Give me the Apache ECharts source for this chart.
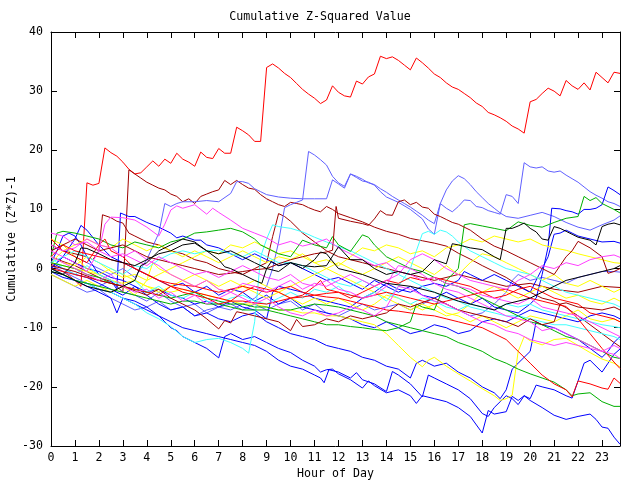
<!DOCTYPE html>
<html><head><meta charset="utf-8">
<script src="https://cdn.jsdelivr.net/npm/echarts@6/dist/echarts.min.js"></script>
<style>html,body{margin:0;padding:0;background:#fff}#c{width:640px;height:480px}</style>
</head><body><div id="c"></div>
<script>
// ---- data (hour, cumulative value) ----
const redTop=[[0,1],[0.25,0],[0.5,-0.5],[0.75,-1.2],[1,-2],[1.25,-3],[1.5,14.5],[1.75,14.1],[2,14.4],[2.25,20.4],[2.5,19.6],[2.75,19],[3,18],[3.25,16.8],[3.5,16],[3.75,16.2],[4,17.2],[4.25,18.2],[4.5,17.3],[4.75,18.5],[5,17.8],[5.25,19.5],[5.5,18.5],[5.75,18],[6,17.3],[6.25,19.7],[6.5,18.8],[6.75,18.6],[7,20.3],[7.25,19.5],[7.5,19.5],[7.75,23.9],[8,23.3],[8.25,22.6],[8.5,21.5],[8.75,21.5],[9,34],[9.25,34.6],[9.5,33.9],[9.75,33],[10,32.3],[10.25,31.3],[10.5,30.3],[10.75,29.5],[11,28.8],[11.25,27.9],[11.5,28.5],[11.75,30.9],[12,29.8],[12.25,29.2],[12.5,29],[12.75,31.7],[13,31.2],[13.25,32.4],[13.5,32.9],[13.75,35.9],[14,35.5],[14.25,35.8],[14.5,35.2],[14.75,34.4],[15,33.6],[15.25,35.6],[15.5,34.8],[15.75,33.9],[16,32.9],[16.25,32.3],[16.5,31.4],[16.75,30.7],[17,30.3],[17.25,29.6],[17.5,28.9],[17.75,28],[18,27.4],[18.25,26.4],[18.5,26],[18.75,25.5],[19,24.9],[19.25,24.1],[19.5,23.6],[19.75,22.9],[20,28.2],[20.25,28.6],[20.5,29.6],[20.75,30.5],[21,30],[21.25,29.2],[21.5,31.8],[21.75,30.9],[22,30.3],[22.25,31.4],[22.5,30.2],[22.75,33.2],[23,32.3],[23.25,31.4],[23.5,33.2],[23.75,33]];
const darkRedA=[[0,2],[0.5,1.2],[1,0.5],[1.5,-0.5],[2,-1.5],[2.5,-2.2],[2.75,-3],[3,-4],[3.25,16.7],[3.5,16],[3.75,15.3],[4,14.6],[4.25,14.1],[4.5,13.6],[4.75,13.3],[5,12.6],[5.25,12.2],[5.5,11.3],[5.75,11.8],[6,11],[6.25,12.2],[6.5,12.6],[6.75,13],[7,13.3],[7.25,14.9],[7.5,14.2],[7.75,14.9],[8,14.2],[8.25,13.6],[8.5,13.4],[8.75,12.5],[9,11.8],[9.25,11.3],[9.5,10.8],[9.75,10.5],[10,11.2],[10.25,11],[10.5,10.8],[10.75,10.3],[11,9.9],[11.25,9.6],[11.5,10.5],[11.75,10],[12,9.3],[12.5,8.6],[13,7.9],[13.5,7],[14,6.3],[14.5,5.8],[15,5.1],[15.5,4.7],[16,4.3],[16.5,3.8],[17,2.6],[17.5,1.6],[18,0.5],[18.5,-0.5],[19,-1.5],[19.5,-2.8],[20,-4],[20.5,-5],[21,-5.5],[21.5,-6.6],[22,-8],[22.5,-9.5],[23,-11],[23.5,-12.5],[23.75,-13.2]];
const darkRedC=[[0,4],[0.5,3],[1,2.5],[1.5,2],[1.75,1.5],[2,3],[2.15,9.1],[2.5,8.6],[2.75,8],[3,7.7],[3.25,6],[3.5,5.5],[4,4.5],[4.5,4],[5,3],[5.5,2.5],[6,1.5],[6.5,1],[7,0],[7.5,-0.5],[8,-1],[8.5,0],[9,1],[9.25,5.4],[9.5,9.3],[9.75,8.8],[10,8],[10.5,6],[11,4.5],[11.5,3],[12,2],[12.5,1.5],[13,1],[14,0],[15,-1],[16,-2],[17,-1],[18,-2],[19,-3],[20,-2.5],[21,-3.5],[22,-4],[23,-3],[23.75,-3.2]];
const lightBlueA=[[0,0.5],[0.5,-0.5],[1,-1.5],[1.5,-2.5],[2,-3],[2.5,-2],[3,-4],[3.5,-4.5],[4,-5.5],[4.5,-4],[5,-5.5],[5.5,-6.5],[6,-6],[6.5,-7.5],[7,-6.5],[7.5,-7],[8,-6],[8.5,-5],[9,-3],[9.25,0],[9.5,4.5],[9.75,10.3],[10,10.8],[10.25,11.2],[10.5,11.6],[10.75,19.8],[11,19.2],[11.25,18.4],[11.5,17.5],[11.75,15.6],[12,14.5],[12.25,13.9],[12.5,16],[12.75,15.6],[13,15.1],[13.25,14.5],[13.5,14.2],[13.75,13.5],[14,12.9],[14.25,12.2],[14.5,11.6],[14.75,11],[15,10.4],[15.25,9.7],[15.5,9],[15.75,8.2],[16,7.6],[16.25,11],[16.5,13.3],[16.75,14.8],[17,15.7],[17.25,15.2],[17.5,14.2],[17.75,13],[18,12],[18.25,11],[18.5,10.2],[18.75,9.4],[19,8.8],[19.5,8.5],[20,9],[20.5,9.5],[21,8.8],[21.5,7.8],[22,7],[22.5,6.5],[23,7.4],[23.5,8.2],[23.75,8.9]];
const lightBlueB=[[0,3],[0.5,4],[1,2],[1.5,1],[2,0],[2.5,-1],[3,0],[3.5,-1.5],[4,1.5],[4.5,6],[4.75,11],[5,10.5],[5.25,11],[5.5,11.3],[6,11.3],[6.5,11.5],[7,11.3],[7.5,12.7],[7.75,14.7],[8,14.7],[8.25,14.4],[8.5,13.5],[8.75,13],[9,12.5],[9.5,12.1],[10,11.9],[10.5,11.8],[11,11.8],[11.5,11.8],[11.75,15],[12,14.3],[12.25,13.6],[12.5,16],[12.75,15.4],[13,14.8],[13.25,14.6],[13.5,14.1],[13.75,13],[14,12.1],[14.5,11.2],[15,10],[15.5,8.4],[15.75,6.7],[16,5.8],[16.25,11],[16.5,10.2],[16.75,9.6],[17,10.5],[17.25,11.6],[17.5,11.5],[17.75,10.5],[18,10.3],[18.25,9.8],[18.5,9.5],[18.75,9.2],[19,12.5],[19.25,12.2],[19.5,11],[19.75,17.9],[20,17.2],[20.25,17],[20.5,17.2],[20.75,16.5],[21,16.3],[21.25,16.5],[21.5,15.8],[21.75,15.2],[22,14.6],[22.25,13.8],[22.5,13],[22.75,12.4],[23,11.9],[23.25,11.3],[23.5,11],[23.75,10.5]];
const lightBlueC=[[0,-1],[0.5,-2],[1,-3],[1.5,-4],[2,-3.5],[2.5,-5],[3,-6],[3.5,-7],[4,-6.5],[4.5,-5.5],[5,-7],[5.5,-6.5],[6,-8],[6.5,-7],[7,-6.5],[7.5,-6],[8,-7],[8.5,-6],[9,-7],[9.5,-6],[10,-5.5],[10.5,-7],[11,-6],[11.5,-7.5],[12,-8],[12.5,-7],[13,-6],[13.5,-7],[14,-6.5],[14.5,-6],[15,-7],[15.5,-6],[16,-5],[16.5,-6],[17,-7],[17.5,-8],[18,-7.5],[18.5,-6],[19,-4],[19.25,-2],[19.5,-1],[20,-2],[20.5,-1.5],[21,-2],[21.5,-2.5],[22,-1.5],[22.5,-1],[23,-0.5],[23.5,-0.5],[23.75,-0.6]];
const blueBottom=[[0,-0.5],[0.5,-1.5],[1,-2],[1.5,-2.5],[2,-3.5],[2.5,-4],[3,-5],[3.5,-5.5],[4,-6.5],[4.5,-8],[4.75,-9],[5,-10],[5.25,-10.5],[5.5,-11.5],[6,-12.5],[6.5,-13.5],[7,-15.1],[7.25,-11.5],[7.5,-11],[8,-12],[8.5,-11.5],[9,-12.5],[9.5,-13.5],[10,-14.2],[10.5,-15.5],[11,-16.5],[11.25,-17.5],[11.5,-17.1],[11.75,-17],[12,-17.8],[12.5,-18.8],[13,-20.2],[13.25,-19],[13.5,-19.8],[14,-21],[14.5,-20.5],[15,-21.5],[15.25,-22.8],[15.5,-21.5],[16,-22],[16.5,-22.5],[17,-23.5],[17.5,-25],[18,-27.8],[18.25,-24],[18.5,-24.6],[19,-24.2],[19.25,-21.6],[19.5,-22.3],[19.75,-21.5],[20,-22.3],[20.5,-23.5],[21,-24.8],[21.5,-25.5],[22,-25],[22.5,-24.6],[22.75,-25.5],[23,-26.8],[23.25,-27],[23.5,-28.5],[23.75,-29.7]];
const blueLow=[[0,0],[0.5,-1],[1,-2],[1.5,-3],[2,-4],[2.5,-5],[2.75,-7.5],[3,-5],[3.5,-6],[4,-7],[4.5,-8],[5,-9],[5.5,-10],[6,-10.5],[6.5,-11],[7,-11.5],[7.5,-12],[8,-12.5],[8.5,-13],[9,-14],[9.5,-15.5],[10,-16.5],[10.5,-17],[11,-18],[11.25,-18.5],[11.4,-19.3],[11.6,-17.1],[12,-17.5],[12.5,-18.5],[12.75,-17.6],[13,-18.8],[13.5,-19.5],[14,-20.8],[14.25,-17.4],[14.5,-18],[15,-19.5],[15.5,-21.7],[15.75,-18],[16,-18.5],[16.5,-19.5],[17,-20.5],[17.5,-22],[18,-24.5],[18.25,-25],[18.5,-23.5],[18.75,-22.5],[19,-21.5],[19.25,-22],[19.5,-23],[19.75,-21.5],[20,-22],[20.25,-19.7],[20.5,-20],[21,-20.5],[21.5,-21.5],[21.75,-21.9],[22,-19],[22.25,-16],[22.5,-15.5],[22.75,-16.5],[23,-17.5],[23.25,-16],[23.5,-14.5],[23.75,-13.6]];
const blueMid=[[0,1],[0.5,0],[1,-1],[1.5,-1.5],[2,-2.5],[2.5,-3.5],[3,-4.5],[3.5,-3],[4,-4.5],[4.5,-6],[5,-7],[5.5,-6.5],[6,-8],[6.5,-7.5],[7,-8.5],[7.5,-9],[8,-8],[8.5,-7.5],[9,-9],[9.5,-10],[10,-11],[10.5,-11.5],[11,-12],[11.5,-13],[12,-13.5],[12.5,-14],[13,-15],[13.5,-15.5],[14,-16.5],[14.5,-17],[15,-18.5],[15.25,-16],[15.5,-15.5],[16,-16.5],[16.5,-16],[17,-17.5],[17.5,-18.5],[18,-20],[18.5,-21],[18.75,-22],[19,-20.5],[19.25,-17],[19.5,-16],[20,-14],[20.25,-9],[20.5,-9.5],[21,-10],[21.5,-11],[22,-12],[22.5,-13.5],[23,-15],[23.25,-14],[23.5,-12.5],[23.75,-11.5]];
const blueHigh=[[0,1],[0.25,3],[0.5,5.5],[0.75,6],[1,5.5],[1.25,4],[1.5,2],[2,-1],[2.5,-2],[2.75,-3.5],[2.9,9.4],[3.25,8.8],[3.5,8.8],[3.75,8.3],[4,7.8],[4.5,7],[5,6],[5.25,5.2],[5.5,5.5],[6,4.8],[6.25,4.8],[6.5,4],[7,3.5],[7.5,2.5],[8,1.5],[8.5,2.5],[9,1.5],[9.5,0.5],[10,1],[10.5,0],[11,-1],[11.5,-2],[12,-1.5],[12.5,-2.5],[13,-3.5],[13.5,-2],[14,-3],[14.5,-4],[15,-3],[15.5,-4.5],[16,-5],[16.5,-4],[17,-5],[17.5,-6],[18,-5],[18.5,-6.5],[19,-7],[19.5,-7.5],[20,-6],[20.25,-5],[20.5,-1],[20.75,3.7],[20.9,10.2],[21.25,10.1],[21.5,9.8],[21.75,9.6],[22,9.2],[22.25,10],[22.5,10],[22.75,10.2],[23,10.8],[23.25,13.8],[23.5,13.2],[23.75,12.5]];
const blueUpper=[[0,0],[0.5,2],[1,1],[1.5,0],[2,-0.5],[2.5,-1.5],[3,-2],[3.5,-3],[4,-4],[4.5,-3.5],[5,-4.5],[5.5,-5],[6,-6],[6.5,-5.5],[7,-6.5],[7.5,-5.5],[8,-6.5],[8.5,-7],[9,-8.5],[9.25,-4],[9.5,-3],[10,-3.5],[10.5,-4],[11,-5],[11.5,-5.5],[12,-6],[12.5,-6.5],[13,-5],[13.5,-4],[14,-2.5],[14.5,-3.5],[15,-4],[15.5,-3],[16,-2.5],[16.5,-3],[17,-2],[17.25,-0.5],[17.5,-1],[18,-2],[18.5,-1],[19,-2],[19.5,-3],[20,-4],[20.25,-2],[20.5,0],[20.75,2],[21,5.8],[21.25,6],[21.5,6.5],[21.75,6],[22,5.5],[22.5,5],[23,4.5],[23.5,4.6],[23.75,4.3]];
const blueEarly=[[0,0],[0.5,2],[1,5],[1.25,7.3],[1.5,6.5],[2,4],[2.5,2],[3,1],[3.5,0],[4,-1],[4.5,-2],[5,-3],[5.5,-2.5],[6,-4],[6.5,-3],[7,-4.5],[7.5,-3.5],[8,-4],[8.5,-5.5],[9,-4.5],[9.5,-6],[10,-5],[10.5,-6.5],[11,-7],[11.5,-7.5],[12,-8],[12.5,-8.5],[13,-9.5],[13.5,-10],[14,-9],[14.5,-10],[15,-11],[15.5,-10.5],[16,-9.5],[16.5,-10],[17,-11],[17.5,-10.5],[18,-9],[18.5,-8.5],[19,-9],[19.5,-8],[20,-7],[20.5,-7.5],[21,-8],[21.5,-8.5],[22,-9],[22.5,-8],[23,-7.5],[23.5,-8],[23.75,-8.5]];
const yellowLow=[[0,1],[0.5,0.5],[1,0],[1.5,-0.5],[2,-1],[2.5,-2],[3,-2.5],[3.5,-2],[4,-3],[4.5,-3.5],[5,-4],[5.5,-3.5],[6,-4],[6.5,-4.5],[7,-5],[7.5,-5.5],[8,-6],[8.5,-6],[9,-6.5],[9.5,-7],[10,-7],[10.5,-7.5],[11,-7.5],[11.5,-8],[12,-8],[12.5,-8.5],[13,-9],[13.5,-9.5],[14,-11],[14.5,-13],[15,-15],[15.5,-16.6],[15.75,-15.5],[16,-15],[16.5,-16.5],[17,-17.8],[17.5,-19],[18,-20.3],[18.5,-21.5],[18.75,-22.3],[19,-22],[19.25,-21.4],[19.5,-14],[19.75,-11.5],[20,-12.2],[20.5,-12.9],[21,-12],[21.5,-11.8],[22,-13],[22.5,-14.2],[23,-15.3],[23.5,-16],[23.75,-16.6]];
const yellowMid=[[0,5],[0.5,4],[1,2],[1.5,0],[2,-1],[2.5,0],[3,-1],[3.5,-2],[4,-3],[4.5,-4],[5,-3],[5.5,-2],[6,-1],[6.5,-2],[7,-3],[7.5,-2],[8,-3],[8.5,-4],[9,-5],[9.5,-4],[10,-5],[10.5,-6],[11,-5],[11.5,-6],[12,-5],[12.5,-6],[13,-7],[13.5,-6],[14,-4.5],[14.5,-5],[15,-6],[15.5,-7],[16,-6],[16.5,-7.5],[17,-8],[17.5,-9],[18,-8],[18.5,-9],[19,-10],[19.5,-9],[20,-8],[20.5,-8.5],[21,-9],[21.5,-8],[22,-7],[22.5,-8.5],[23,-9],[23.5,-8.5],[23.75,-9]];
const yellowHigh=[[0,1],[0.5,3],[1,4],[1.5,5],[2,4],[2.5,3.5],[3,5],[3.5,4],[4,3],[4.5,4],[5,3],[5.5,2],[6,3],[6.5,2],[7,1],[7.5,2],[8,3],[8.5,2],[9,1],[9.5,2],[10,1.5],[10.5,2.5],[11,1],[11.5,0],[12,1],[12.5,0],[13,-1],[13.5,0],[14,1],[14.5,2],[15,1],[15.5,0],[16,-1],[16.5,0.5],[17,-1],[17.5,1],[18,2.5],[18.5,2],[19,1],[19.5,0],[20,-1],[20.5,-2],[21,-1],[21.5,-2.5],[22,-3],[22.5,-2],[23,-3],[23.5,-4],[23.75,-3.5]];
const yellowFour=[[0,-1],[0.5,-2],[1,-3],[1.5,-2],[2,-3],[2.5,-4],[3,-3],[3.5,-4.5],[4,-2],[4.25,1],[4.5,0],[5,-1],[5.5,-2],[6,-3],[6.5,-2],[7,-3.5],[7.5,-4],[8,-3],[8.5,-2],[9,-3],[9.5,-4],[10,-3],[10.5,-2],[11,-1],[11.5,0],[12,-1],[12.5,-2],[13,-3],[13.5,-4],[14,-5],[14.5,-6],[15,-7],[15.5,-6],[16,-7],[16.5,-8],[17,-7.5],[17.5,-6],[18,-4],[18.5,-3],[19,-4],[19.5,-5],[20,-4],[20.5,-3],[21,-4],[21.5,-5],[22,-4.5],[22.5,-5.5],[23,-6],[23.5,-5],[23.75,-5.5]];
const yellowFive=[[0,2],[0.5,1],[1,0.5],[1.5,2],[2,1],[2.5,-0.5],[3,-1.5],[3.5,-1],[4,-2],[4.5,-1],[5,0],[5.5,1],[6,2],[6.5,3],[7,2.5],[7.5,4],[8,3.5],[8.5,4.5],[9,3.5],[9.5,2.5],[10,3],[10.5,2],[11,1],[11.5,1.5],[12,0.5],[12.5,2],[13,3.5],[13.5,3],[14,4],[14.5,3.5],[15,2.5],[15.5,3],[16,2],[16.5,3.5],[17,4],[17.5,5],[18,4.5],[18.5,5.5],[19,5],[19.5,4.5],[20,5],[20.5,4],[21,3.5],[21.5,3.1],[22,2.5],[22.5,2],[23,1.5],[23.5,1],[23.75,0.9]];
const cyanLow=[[0,0],[0.5,-1],[1,-2],[1.5,-2.5],[2,-3.5],[2.5,-4],[3,-5],[3.5,-6],[4,-7.5],[4.5,-8.5],[5,-9.8],[5.5,-11.5],[6,-12.5],[6.5,-12],[7,-11.8],[7.5,-12.5],[8,-13.5],[8.25,-14.3],[8.5,-9],[8.75,2],[9,5],[9.25,7.4],[9.5,7.1],[10,6.8],[10.5,6.2],[11,5.3],[11.5,4.5],[12,3.7],[12.5,3],[13,2],[13.5,1],[14,0],[14.5,-1],[15,-2],[15.5,-3],[16,-4],[16.5,-5],[17,-5.5],[17.5,-6.5],[18,-7],[18.5,-7.5],[19,-8],[19.5,-8],[20,-8.5],[20.5,-9],[21,-9.5],[21.5,-9.5],[22,-10],[22.5,-10.5],[23,-11],[23.5,-11.5],[23.75,-12]];
const cyanMid=[[0,2],[0.5,0],[1,-1],[1.5,0.5],[2,-1],[2.5,-2],[3,-3],[3.5,-2],[4,-4],[4.5,-3],[5,-4.5],[5.5,-5],[6,-4],[6.5,-5.5],[7,-6],[7.5,-5],[8,-4.5],[8.5,-5.5],[9,-6],[9.5,-5],[10,-4],[10.5,-5],[11,-3.5],[11.5,-4],[12,-3],[12.5,-4.5],[13,-5],[13.5,-4],[14,-5.5],[14.5,-3],[15,0],[15.25,3],[15.5,5.9],[15.75,6.3],[16,5.8],[16.25,6.5],[16.5,6.2],[16.75,5.5],[17,4.5],[17.5,3],[18,2],[18.5,1],[19,0],[19.5,-0.5],[20,-1],[20.5,-2],[21,-3],[21.5,-4],[22,-4.5],[22.5,-5],[23,-5.5],[23.5,-6],[23.75,-6.5]];
const cyanHigh=[[0,1],[0.5,2],[1,3],[1.5,2],[2,1],[2.5,0],[3,-1],[3.5,0.5],[4,0],[4.5,1.5],[5,2.5],[5.5,3],[6,2.5],[6.5,3],[7,3.1],[7.5,2.5],[8,2],[8.5,3],[9,2],[9.5,1],[10,1],[10.5,0.5],[11,-0.5],[11.5,-1.5],[12,-2.5],[12.5,-3],[13,-2],[13.5,-3],[14,-4],[14.5,-5],[15,-6],[15.5,-5],[16,-5.5],[16.5,-6.5],[17,-7],[17.5,-6],[18,-6.5],[18.5,-7],[19,-6],[19.5,-6.5],[20,-6],[20.5,-7],[21,-7.5],[21.5,-8],[22,-8.5],[22.5,-9],[23,-9.5],[23.5,-9.8],[23.75,-10]];
const greenLow=[[0,1],[0.5,0.5],[1,0],[1.5,-1],[2,-1.5],[2.5,-2.5],[3,-3],[3.5,-3.5],[4,-4],[4.5,-4.5],[5,-5],[5.5,-4.5],[6,-4],[6.5,-5],[7,-5.5],[7.5,-6],[8,-6],[8.5,-6.5],[9,-6.5],[9.5,-7],[10,-7],[10.5,-6.5],[11,-6],[11.5,-6.2],[12,-6.5],[12.5,-7],[13,-7.5],[13.5,-8],[14,-9],[14.5,-9.5],[15,-10],[15.5,-10.5],[16,-11],[16.5,-11.5],[17,-12.5],[17.5,-13.2],[18,-14],[18.5,-15.2],[19,-16],[19.5,-17],[20,-17.8],[20.5,-18.5],[21,-19.2],[21.5,-20.5],[21.75,-21.5],[22,-21.2],[22.5,-21],[23,-22.5],[23.5,-23.3],[23.75,-23.3]];
const greenUp=[[0,-0.5],[0.5,-1],[1,-2],[1.5,-2.5],[2,-3],[2.5,-3.5],[3,-4],[3.5,-4.5],[4,-5],[4.5,-5.5],[5,-6],[5.5,-5.5],[6,-5.5],[6.5,-6],[7,-6],[7.5,-6.5],[8,-7],[8.5,-7],[9,-7],[9.5,-7.5],[10,-8],[10.5,-8.5],[11,-9],[11.5,-9.5],[12,-9.5],[12.5,-9.8],[13,-10],[13.5,-10.3],[14,-10.5],[14.5,-10],[15,-9],[15.25,-6],[15.5,-6.5],[16,-7],[16.5,-2],[17,0],[17.25,7.4],[17.5,7.6],[18,7.2],[18.5,6.8],[19,6.4],[19.5,7.9],[20,7.3],[20.5,7],[21,7.8],[21.5,8.5],[22,8.8],[22.25,12.2],[22.5,11.5],[22.75,12],[23,11],[23.5,10],[23.75,9.4]];
const greenMid=[[0,2],[0.25,6],[0.5,6.3],[1,6],[1.5,5.5],[2,5],[2.5,4],[3,3.5],[3.5,4.5],[4,4],[4.5,3.5],[5,4.5],[5.5,5],[6,6],[6.5,6.2],[7,6.5],[7.5,6.8],[8,6.2],[8.5,5],[8.75,4],[9,3.5],[9.5,2.5],[10,2],[10.5,4.8],[11,4],[11.5,3.5],[11.75,5.4],[12,4],[12.5,2.9],[13,5.7],[13.25,5.3],[13.5,4],[14,2],[14.5,1],[15,0],[15.5,-0.5],[16,-1.5],[16.5,-2.5],[17,-3],[17.5,-4],[18,-5],[18.5,-6],[19,-7],[19.5,-8],[20,-9],[20.5,-9.5],[21,-10.5],[21.5,-11.5],[22,-12],[22.5,-13],[23,-14],[23.5,-15],[23.75,-15.2]];
const redLowA=[[0,0],[0.5,-0.5],[1,-1],[1.5,-1.5],[2,-2],[2.5,-2.5],[3,-3],[3.5,-3.5],[4,-4],[4.5,-4.5],[5,-3],[5.5,-3.5],[6,-4],[6.5,-4.5],[7,-5],[7.5,-5.5],[8,-5.5],[8.5,-5.8],[9,-6],[9.5,-5.5],[10,-5],[10.5,-4.8],[11,-4.5],[11.5,-4.8],[12,-5],[12.5,-5.5],[13,-6],[13.5,-6.5],[14,-7],[14.5,-7.2],[15,-7.5],[15.5,-7.8],[16,-8],[16.5,-8.5],[17,-9],[17.5,-9.5],[18,-10],[18.5,-11],[19,-12],[19.5,-14],[20,-16],[20.5,-18],[21,-19.5],[21.5,-20.5],[21.75,-21.7],[22,-19],[22.5,-19.5],[23,-20.2],[23.25,-20.4],[23.5,-18.5],[23.75,-19.4]];
const redLowB=[[0,2],[0.5,4],[1,3],[1.5,2.5],[2,2],[2.5,1.5],[3,1],[3.5,0],[4,-1],[4.5,-2],[5,-2.5],[5.5,-2.8],[6,-3],[6.5,-3.5],[7,-4],[7.5,-3.5],[8,-3],[8.5,-3.5],[9,-4],[9.5,-3.5],[10,-3],[10.5,-4],[11,-4.5],[11.5,-4.2],[12,-4],[12.5,-4.5],[13,-5],[13.5,-4.5],[14,-4],[14.5,-4.5],[15,-5],[15.5,-5.5],[16,-6],[16.5,-5.5],[17,-5],[17.5,-4.5],[18,-4],[18.5,-3.8],[19,-3.5],[19.5,-4.2],[20,-5],[20.5,-5.5],[21,-6],[21.5,-6.4],[22,-8.5],[22.5,-11],[23,-13.5],[23.5,-15.8],[23.75,-16.9]];
const redMid=[[0,5],[0.5,3],[1,2],[1.5,1],[2,4],[2.25,5],[2.5,3],[3,2],[3.5,0],[4,-1],[4.5,-2],[5,-3],[5.5,-4],[6,-4.5],[6.5,-5],[7,-6],[7.5,-5.5],[8,-4],[8.5,-3],[9,-3.5],[9.5,-4],[10,-5],[10.5,-4.5],[11,-3],[11.25,-2],[11.5,-3.5],[12,-4],[12.5,-5],[13,-4],[13.5,-3],[14,-2],[14.5,-2.5],[15,-1.5],[15.5,-2],[16,-1.5],[16.5,-2],[17,-2.5],[17.5,-3],[18,-4],[18.5,-5],[19,-4.5],[19.5,-3.5],[20,-3],[20.5,-4],[21,-5],[21.5,-5.5],[22,-6],[22.5,-7.5],[23,-8],[23.5,-8.5],[23.75,-9]];
const darkRedLow=[[0,0.5],[1,-0.5],[2,-2],[3,-3],[4,-4.5],[4.5,-3.5],[5,-5],[5.5,-6],[6,-7],[6.5,-8.5],[7,-10.2],[7.25,-8.8],[7.5,-9.2],[7.75,-7.3],[8,-7.5],[8.5,-8],[9,-8.5],[9.5,-9],[10,-10.5],[10.25,-8.6],[10.5,-9.8],[11,-9.5],[11.5,-8.5],[12,-9],[12.5,-8],[13,-8.5],[14,-7.5],[14.5,-6],[15,-6.5],[16,-5],[16.5,-6],[17,-7],[18,-8],[19,-9],[19.5,-9.8],[20,-8.5],[20.5,-9.5],[21,-9],[21.25,-6],[21.5,-5.8],[22,-6.5],[23,-7],[23.5,-6.5],[23.75,-7]];
const darkRedB=[[0,3],[0.5,4],[1,5],[1.5,4],[2,3],[2.5,3.5],[3,4],[3.5,3],[4,2],[4.5,1.5],[5,1],[5.5,0.5],[6,0],[6.5,-0.5],[7,-1],[7.5,-0.8],[8,-0.5],[8.5,-0.2],[9,0],[9.5,0.8],[10,1.5],[10.5,2],[11,2.5],[11.5,2.8],[11.75,3.1],[11.9,10.5],[12,8.5],[12.5,8],[13,7.6],[13.25,7.3],[13.5,8.4],[13.75,9.8],[14,9.1],[14.25,9],[14.5,11.3],[14.75,11.6],[15,10.8],[15.25,11.2],[15.5,10.4],[15.75,10.2],[16,9.2],[16.25,8.8],[16.5,8.3],[16.75,7.8],[17,7.5],[17.5,6.5],[18,5],[18.5,3.8],[19,3],[19.5,2],[20,1],[20.5,0],[21,-1],[21.5,2],[21.75,3],[22,4.6],[22.5,3.5],[23,2],[23.25,-0.8],[23.5,-0.5],[23.75,0]];
const magentaHigh=[[0,3],[0.5,2],[1,1],[1.5,-0.5],[2,3],[2.25,7.5],[2.5,8.7],[3,8.6],[3.5,8.2],[4,7],[4.5,5.5],[4.75,7.5],[5,9.9],[5.25,10.6],[5.5,10.2],[6,10.8],[6.5,9.2],[6.75,10.2],[7,9.5],[7.5,8.2],[8,6.8],[8.5,6],[9,5.2],[9.5,4],[10,4.6],[10.5,3.8],[11,4.3],[11.5,5],[12,3.5],[12.5,2.5],[13,1.5],[13.5,0.5],[14,1],[14.5,-0.5],[15,-1],[15.5,-2],[16,-1.5],[16.5,-2.5],[17,-3],[17.5,-3.5],[18,-4.5],[18.5,-5],[19,-5.5],[19.5,-6],[20,-5],[20.5,-6.5],[21,-7],[21.5,-7.5],[22,-8],[22.5,-9],[23,-10],[23.5,-11],[23.75,-11.5]];
const magentaMid=[[0,6],[0.5,5.5],[1,4],[1.5,4.5],[2,3],[2.5,2],[3,2.5],[3.5,1.5],[4,0.5],[4.5,2],[5,1],[5.5,0],[6,-1],[6.5,-0.5],[7,-1.5],[7.5,-0.5],[8,0.5],[8.5,-0.5],[9,-1.5],[9.5,-2],[10,-1],[10.5,-2.5],[11,-3],[11.5,-2],[12,-3.5],[12.5,-4],[13,-5],[13.5,-4.5],[14,-3],[14.25,-1],[14.5,0.5],[15,0],[15.5,-1],[16,-2.5],[16.5,-3.5],[17,-4],[17.5,-5],[18,-6],[18.5,-7],[19,-8],[19.5,-8.5],[20,-9],[20.5,-10.5],[21,-10],[21.5,-11],[22,-12],[22.5,-13],[23,-14],[23.5,-14.5],[23.75,-15.2]];
const magentaLow=[[0,2],[0.5,1],[1,0],[1.5,-1],[2,-2],[2.5,-1],[3,-3],[3.5,-4],[4,-3.5],[4.5,-5],[5,-4],[5.5,-5.5],[6,-4.5],[6.5,-6],[7,-5],[7.5,-4],[8,-2.5],[8.5,-3],[9,-4],[9.5,-3],[10,-2],[10.5,-3.5],[11,-2.5],[11.5,-3],[12,-2],[12.5,-1],[13,-2],[13.5,-3],[14,-2],[14.5,-1],[15,1.5],[15.5,2.5],[16,1.5],[16.5,0],[17,-1],[17.5,-2],[18,-2.5],[18.5,-3],[19,-3.5],[19.5,-2],[20,-1],[20.5,0.5],[21,0],[21.5,1],[22,0.5],[22.5,1.5],[23,2],[23.5,2.3],[23.75,1.9]];
const magentaFour=[[0,4],[0.5,3],[1,3.5],[1.5,5],[2,4],[2.5,3.5],[3,2],[3.5,3],[4,1.5],[4.5,0.5],[5,-1],[5.5,-2],[6,-3],[6.5,-2],[7,-3.5],[7.5,-4],[8,-5],[8.5,-6],[9,-5],[9.5,-6.5],[10,-7.5],[10.5,-8],[11,-7],[11.5,-8],[12,-7.5],[12.5,-6.5],[13,-7],[13.5,-8],[14,-6.5],[14.5,-3],[15,-3.5],[15.5,-4.5],[16,-5.5],[16.5,-6],[17,-7],[17.5,-8],[18,-9],[18.5,-9.5],[19,-10.5],[19.5,-11],[20,-12],[20.5,-12.5],[21,-13],[21.5,-12.5],[22,-13],[22.5,-13.5],[23,-14],[23.5,-13],[23.75,-13.5]];
const blackHigh=[[0,0],[0.5,-1],[1,1],[1.25,3.5],[1.5,3.4],[2,2.5],[2.5,1.5],[3,1],[3.5,0.5],[4,1.5],[4.5,2.5],[5,3],[5.5,4],[6,4.3],[6.5,3],[7,1.5],[7.25,0.3],[7.5,0],[8,-1],[8.5,-2],[8.8,-2.5],[9,0],[9.2,1.2],[9.5,0.5],[10,1],[10.5,0.5],[11,0.3],[11.5,0.5],[12,3.7],[12.5,1.5],[13,1.5],[13.5,0],[14,-1],[14.5,-0.5],[15,-1],[15.5,-0.5],[16,1.5],[16.5,0.8],[16.75,4.2],[17,4],[17.5,3.5],[18,3.2],[18.5,2],[18.75,1.5],[19,6.8],[19.25,6.8],[19.5,7.2],[19.75,7.7],[20,6.8],[20.25,6.2],[20.5,5],[20.75,4.8],[21,7.1],[21.25,6.8],[21.5,6.3],[21.75,5.8],[22,5.3],[22.5,4.8],[22.75,4],[23,7.1],[23.25,7.5],[23.5,7.7],[23.75,7.4]];
const blackMid=[[0,-0.5],[0.5,-1],[1,-2],[1.5,-3],[2,-3.5],[2.5,-4],[3,-3],[3.5,-2],[3.75,0.5],[4,1],[4.5,3],[5,4],[5.5,5],[6,4.5],[6.5,3],[7,2.5],[7.5,3],[8,2],[8.5,1],[9,0],[9.5,-0.5],[10,1],[10.5,0],[11,1.5],[11.25,2.8],[11.5,2.5],[12,0],[13,-1],[14,-2.5],[15,-3],[16,-4],[17,-5.5],[18,-6.5],[18.5,-7],[19,-6],[20,-5],[20.5,-4],[21,-3],[21.5,-2],[22,-1.5],[22.5,-1],[23,-0.5],[23.5,0],[23.75,0.5]];

// ---- axis ticks / labels ----
const xTicks=[0,1,2,3,4,5,6,7,8,9,10,11,12,13,14,15,16,17,18,19,20,21,22,23];
const yTicks=[-30,-20,-10,0,10,20,30,40];
const titleText='Cumulative Z-Squared Value';
const xName='Hour of Day';
const yName='Cumulative (Z*Z)-1';

// ---- series list (drawing order) ----
const seriesList=[
 ['redTop',redTop,'red'],['darkRedA',darkRedA,'darkred'],['darkRedC',darkRedC,'darkred'],['lightBlueA',lightBlueA,'lightblue'],
 ['lightBlueB',lightBlueB,'lightblue'],['lightBlueC',lightBlueC,'lightblue'],['blueBottom',blueBottom,'blue'],
 ['blueLow',blueLow,'blue'],['blueMid',blueMid,'blue'],['blueHigh',blueHigh,'blue'],['blueUpper',blueUpper,'blue'],['blueEarly',blueEarly,'blue'],
 ['yellowLow',yellowLow,'yellow'],['yellowMid',yellowMid,'yellow'],['yellowHigh',yellowHigh,'yellow'],['yellowFour',yellowFour,'yellow'],['yellowFive',yellowFive,'yellow'],
 ['cyanLow',cyanLow,'cyan'],['cyanMid',cyanMid,'cyan'],['cyanHigh',cyanHigh,'cyan'],
 ['greenLow',greenLow,'green'],['greenUp',greenUp,'green'],['greenMid',greenMid,'green'],
 ['redLowA',redLowA,'red'],['redLowB',redLowB,'red'],['redMid',redMid,'red'],
 ['darkRedLow',darkRedLow,'darkred'],['darkRedB',darkRedB,'darkred'],
 ['magentaHigh',magentaHigh,'magenta'],['magentaMid',magentaMid,'magenta'],['magentaLow',magentaLow,'magenta'],['magentaFour',magentaFour,'magenta'],
 ['blackHigh',blackHigh,'black'],['blackMid',blackMid,'black']
];
const palette={red:'#ff0000',darkred:'#a00000',green:'#00b000',blue:'#0000ff',lightblue:'#6060ff',magenta:'#ff40ff',cyan:'#40ffff',yellow:'#ffff00',black:'#000000'};

const FONT='DejaVu Sans Mono';
const chart=echarts.init(document.getElementById('c'),null,{renderer:'canvas'});
const axisCommon={type:'value',axisLine:{show:true,onZero:false,lineStyle:{color:'#000',width:1}},
  axisTick:{show:true,inside:true,length:6,lineStyle:{color:'#000'}},splitLine:{show:false}};
chart.setOption({
  animation:false,backgroundColor:'#fff',
  title:{text:titleText,left:'center',top:6,textStyle:{fontFamily:FONT,fontSize:11.6,fontWeight:'normal',color:'#000'}},
  grid:{left:51,right:20,top:32,bottom:34,containLabel:false,outerBoundsMode:'none'},
  xAxis:[
    Object.assign({},axisCommon,{position:'bottom',min:0,max:23.75,interval:1,name:xName,nameLocation:'middle',nameGap:22,
      nameMoveOverlap:false,nameTextStyle:{fontFamily:FONT,fontSize:11.6,color:'#000'},
      axisLabel:{color:'#000',fontFamily:FONT,fontSize:11.6,margin:6,showMaxLabel:false,
        formatter:v=>xTicks.indexOf(v)>=0?String(v):''}}),
    Object.assign({},axisCommon,{position:'top',min:0,max:23.75,interval:1,axisLabel:{show:false}})
  ],
  yAxis:[
    Object.assign({},axisCommon,{position:'left',min:-30,max:40,interval:10,name:yName,nameLocation:'middle',nameGap:33,
      nameMoveOverlap:false,nameTextStyle:{fontFamily:FONT,fontSize:11.6,color:'#000'},
      axisLabel:{color:'#000',fontFamily:FONT,fontSize:11.6,margin:8,formatter:v=>yTicks.indexOf(v)>=0?String(v):''}}),
    Object.assign({},axisCommon,{position:'right',min:-30,max:40,interval:10,axisLabel:{show:false}})
  ],
  series:seriesList.map(([n,d,c])=>({name:n,type:'line',data:d,xAxisIndex:0,yAxisIndex:0,showSymbol:false,symbol:'none',
    lineStyle:{color:palette[c],width:1},silent:true,clip:true}))
});
</script></body></html>
